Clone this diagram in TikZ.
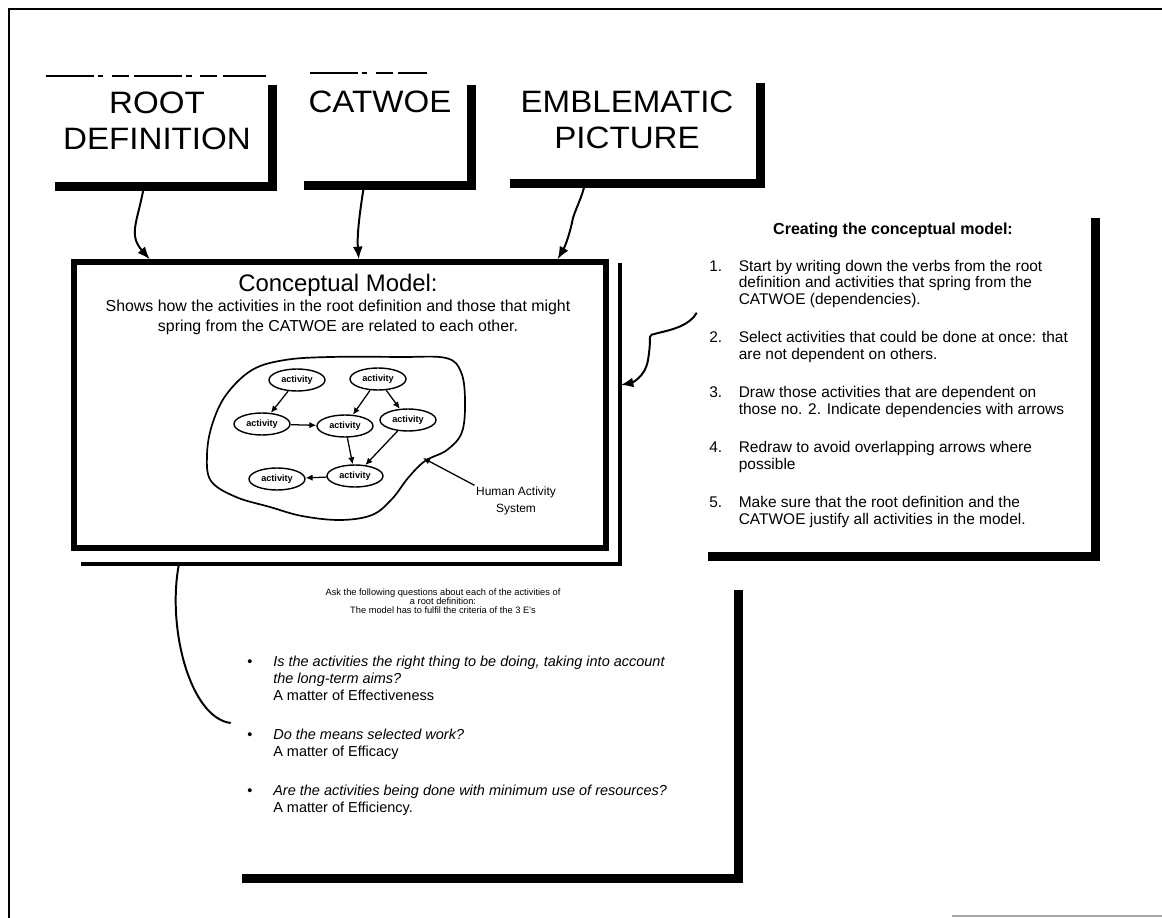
\documentclass[tikz,border=0pt]{standalone}
\usepackage{fontspec}
\setmainfont{Liberation Sans}
\newfontfamily\headfont[FakeStretch=1.07]{Liberation Sans}
\usetikzlibrary{calc,positioning,shapes,arrows,arrows.meta}

\newcommand{\pxu}{0.025cm}

\tikzstyle{headbox} = [rectangle, inner sep=0pt]
\tikzstyle{headtext} = [align=center, inner sep=0pt, font=\headfont\fontsize{22}{26}\selectfont]
\tikzstyle{bar} = [draw, line width=6.5pt, line join=miter]
\tikzstyle{topline} = [draw, line width=1.3pt, dash pattern=on 34pt off 3pt on 4pt off 6pt on 12pt off 4pt]
\tikzstyle{model} = [rectangle, draw, line width=3.8pt, inner sep=0pt,
minimum width=532*\pxu, minimum height=286*\pxu]
\tikzstyle{shadowline} = [draw, line width=2.6pt]
\tikzstyle{line} = [draw, line width=1.4pt, -{Latex[length=9pt, width=7pt]}]
\tikzstyle{activity} = [ellipse, draw, line width=1pt, inner sep=0pt,
minimum width=56*\pxu, minimum height=22*\pxu, font=\fontsize{6.5}{7}\selectfont\bfseries]
\tikzstyle{dep} = [draw, line width=0.9pt, -{Latex[length=5pt, width=4.5pt]}]
\tikzstyle{listtext} = [inner sep=0pt, font=\fontsize{11}{12}\selectfont]
\tikzstyle{questtext} = [inner sep=0pt, font=\fontsize{10.3}{12.1}\selectfont]

\begin{document}
\begin{tikzpicture}[x=0.025cm, y=-0.025cm, node distance=1cm, auto]
	\useasboundingbox (0,0) rectangle (1162,918);
	% page frame
	\draw[line width=1.2pt] (9,918) -- (9,9) -- (1162,9);
	\draw[gray!70, line width=1.2pt] (952,916) -- (1162,916);

	% Place nodes
	\node [headbox, minimum width=217*\pxu, minimum height=108*\pxu] (root) at (163.5,132) {};
	\node [headbox, minimum width=167*\pxu, minimum height=110*\pxu] (catwoe) at (387.5,130) {};
	\node [headbox, minimum width=250*\pxu, minimum height=105*\pxu] (emblem) at (635,130.5) {};
	\node [headtext] (rootText) at (157,121) {ROOT\\DEFINITION};
	\node [headtext] (catwoeText) at (380,102) {CATWOE};
	\node [headtext] (emblemText) at (627,120) {EMBLEMATIC\\PICTURE};

	\node [model] (concept) at (340,405) {};
	\node [font=\fontsize{17}{20}\selectfont] (conceptTitle) at (338,285) {Conceptual Model:};
	\node [align=center, font=\fontsize{11.3}{14.2}\selectfont] (conceptNote) at (338,317)
		{Shows how the activities in the root definition and those that might\\
		spring from the CATWOE are related to each other.};

	% human activity system
	\draw[line width=1.2pt] plot[smooth cycle, tension=0.6] coordinates {
		(252,370) (226,395) (212,425) (207,455) (211,481) (236,497) (270,507)
		(302,516) (340,520) (372,515) (392,499) (408,478) (425,461) (447,450)
		(462,432) (465,400) (461,372) (446,358) (400,357) (330,357) (285,360)};
	\node [activity] (act1) at (297,380) {activity};
	\node [activity] (act2) at (378,379) {activity};
	\node [activity] (act3) at (262,424) {activity};
	\node [activity] (act4) at (345,426) {activity};
	\node [activity] (act5) at (408,420) {activity};
	\node [activity] (act6) at (355,476) {activity};
	\node [activity] (act7) at (277,479) {activity};
	\path [dep] (act1) -- (act3);
	\path [dep] (act3) -- (act4);
	\path [dep] (act2) -- (act4);
	\path [dep] (act2) -- (act5);
	\path [dep] (act4) -- (act6);
	\path [dep] (act5) -- (act6);
	\path [dep] (act6) -- (act7);
	\node [align=center, inner sep=1pt, font=\fontsize{8.5}{12}\selectfont] (has) at (516,501)
		{Human Activity\\System};
	\coordinate (hasEdge) at (423,458);
	\path [dep] (has.north west) -- (hasEdge);

	% steps box
	\node [headbox, minimum width=387*\pxu, minimum height=338*\pxu] (steps) at (901.5,387) {};
	\node [font=\fontsize{11.4}{13}\selectfont\bfseries] (stepsTitle) at (893,230) {Creating the conceptual model:};
	\node [listtext, anchor=north west] (stepsList) at (709,259) {%
		\begin{tabular}{@{}p{21pt}@{}l@{}}
		1. & Start by writing down the verbs from the root\\
		   & definition and activities that spring from the\\
		   & CATWOE (dependencies).\\[15pt]
		2. & Select activities that could be done at once: that\\
		   & are not dependent on others.\\[15pt]
		3. & Draw those activities that are dependent on\\
		   & those no. 2. Indicate dependencies with arrows\\[15pt]
		4. & Redraw to avoid overlapping arrows where\\
		   & possible\\[15pt]
		5. & Make sure that the root definition and the\\
		   & CATWOE justify all activities in the model.
		\end{tabular}};

	% questions box
	\node [headbox, minimum width=496*\pxu, minimum height=288*\pxu] (quest) at (490,734) {};
	\node [align=center, font=\fontsize{6.6}{6.5}\selectfont] (questHead) at (443,601)
		{Ask the following questions about each of the activities of\\
		a root definition:\\
		The model has to fulfil the criteria of the 3 E's};
	\node [questtext, anchor=north west] (questList) at (247,654) {%
		\begin{tabular}{@{}p{18.5pt}@{}l@{}}
		\textbullet & \textit{Is the activities the right thing to be doing, taking into account}\\
		            & \textit{the long-term aims?}\\
		            & A matter of Effectiveness\\[15.6pt]
		\textbullet & \textit{Do the means selected work?}\\
		            & A matter of Efficacy\\[15.6pt]
		\textbullet & \textit{Are the activities being done with minimum use of resources?}\\
		            & A matter of Efficiency.
		\end{tabular}};

	% connectors
	\path [line] ($(root.south west)!0.41!(root.south east)$) .. controls +(-6,35) and +(-22,-25) ..
		($(concept.north west)!0.146!(concept.north east)$);
	\path [line] ($(catwoe.south west)!0.36!(catwoe.south east)$) .. controls +(-4,25) and +(-2,-25) ..
		($(concept.north west)!0.535!(concept.north east)$);
	\path [line] ($(emblem.south west)!0.3!(emblem.south east)$) .. controls +(-2,12) and +(3,-10) .. (573,218)
		.. controls +(-3,15) and +(8,-14) .. ($(concept.north west)!0.905!(concept.north east)$);
	\coordinate (stepsTail) at ($(steps.north west)+(-11,95)$);
	\path [line] (stepsTail) .. controls +(-7,13) and +(13,-3) .. (658,333)
		.. controls +(-13,4) and +(5,-30) .. (648,360)
		.. controls +(-3,18) and +(10,-2) .. ($(concept.east)+(12,-20)$);
	\path [draw, line width=1.4pt] ($(concept.south west)!0.2!(concept.south east)+(0,14)$)
		.. controls +(-12,65) and +(-40,-5) .. ($(quest.west)+(-11,-11)$);

	% box edges
	\path [topline] ($(root.north west)+(-9,-2)$) -- ($(root.north east)+(-6,-2)$);
	\path [topline] ($(catwoe.north west)+(6,-2)$) -- ($(catwoe.north east)+(-44,-2)$);
	\path [bar] ($(root.north east)+(0,7)$) -- (root.south east) -- (root.south west);
	\path [bar] ($(catwoe.north east)+(0,10)$) -- (catwoe.south east) -- (catwoe.south west);
	\path [bar] ($(emblem.north east)+(0,5)$) -- (emblem.south east) -- (emblem.south west);
	\path [shadowline] ($(concept.north east)+(11,4)$) |- ($(concept.south west)+(10,13)$);
	\path [bar] (steps.north east) -- (steps.south east) -- (steps.south west);
	\path [bar] (quest.north east) -- (quest.south east) -- (quest.south west);
\end{tikzpicture}
\end{document}
